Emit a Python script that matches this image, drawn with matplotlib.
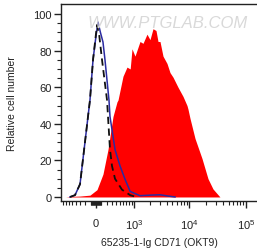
import numpy as np
import matplotlib
matplotlib.use("Agg")
import matplotlib.pyplot as plt
from matplotlib.ticker import FixedLocator, NullFormatter

plt.rcParams['font.family'] = ['Liberation Sans', 'DejaVu Sans']
plt.rcParams['mathtext.fontset'] = 'custom'
plt.rcParams['mathtext.rm'] = 'Liberation Sans'
plt.rcParams['mathtext.it'] = 'Liberation Sans'

# ---- data (fluorescence intensity, relative cell number) ----
stained_x = [-700, -563, -310, -110, 18, 128, 226, 333, 428, 454, 593, 722, 839, 912,
             1042, 1297, 1475, 1746, 1980, 2245, 2541, 2762, 2997, 3392, 3996, 4520,
             5111, 6269, 7690, 9053, 9430, 10230, 12550, 16700, 21300, 26100, 34700]
stained_y = [0, 0.3, 0.5, 1, 4, 12.5, 26, 44, 52, 53, 66, 71, 70, 81,
             77, 85, 84, 89, 86, 92, 91, 85, 85, 77, 73, 68,
             65.5, 60, 55, 50, 48, 43, 32, 21, 10, 4.4, 0]

isotype_x = [-563, -428, -310, -206, -147, -110, -54, 0, 36, 80, 128, 166, 246, 267,
             379, 507, 650, 839, 1297, 2000, 2997, 4000, 5550]
isotype_y = [0, 1, 7, 30, 44, 53, 75, 88, 95.6, 90, 84.7, 75, 53, 44,
             26, 17, 10, 3, 0.7, 1.0, 1.2, 0.6, 0]

blank_x = [-563, -428, -310, -206, -147, -110, -54, 18, 60, 110, 206, 226, 267,
           310, 379, 563, 839, 1100]
blank_y = [0, 1, 7, 30, 44, 53, 75, 94, 88, 75, 53, 44, 26,
           17, 10, 4, 1, 0]

x_major = [0, 1000, 10000, 100000]
x_major_labels = ['0', r'$10^3$', r'$10^4$', r'$10^5$']
y_major = [0, 20, 40, 60, 80, 100]

W = 444.0
def fwd(v):
    return np.arcsinh(np.asarray(v, dtype=float) / W) / np.log(10)
def inv(u):
    return W * np.sinh(np.asarray(u, dtype=float) * np.log(10))

fig = plt.figure(figsize=(2.57, 2.51), dpi=100)
ax = fig.add_axes([61/257, 49/251, 196/257, 197/251])
ax.set_xscale('function', functions=(fwd, inv))

ax.fill_between(stained_x, stained_y, 0, color='#ff0000', linewidth=0, zorder=1)
ax.plot(isotype_x, isotype_y, color='#2a2aa0', lw=1.1, zorder=2)
ax.plot(blank_x, blank_y, color='#111111', lw=1.3, ls=(0, (4, 2.5)), zorder=3)

ax.set_xlim(-871, 157000)
ax.set_ylim(-2.2, 105.5)

minor = [-800, -700, -600, -500, -400, -300, -200, -100]
minor += [-90, -80, -70, -60, -50, -40, -30, -20, -10, 10, 20, 30, 40, 50, 60, 70, 80, 90]
minor += [100, 200, 300, 400, 500, 600, 700, 800, 900]
minor += [k * 1000 for k in range(2, 10)] + [k * 10000 for k in range(2, 10)]
ax.xaxis.set_major_locator(FixedLocator(x_major))
ax.set_xticklabels(x_major_labels)
ax.xaxis.set_minor_locator(FixedLocator(minor))
ax.xaxis.set_minor_formatter(NullFormatter())
ax.set_yticks(y_major)
ax.yaxis.set_minor_locator(FixedLocator(np.arange(0, 101, 5)))

ax.tick_params(axis='both', which='major', length=5, width=1, color='#222222',
               labelsize=8, labelcolor='#222222')
ax.tick_params(axis='x', which='major', pad=7)
ax.tick_params(axis='y', which='major', pad=1.5)
ax.tick_params(axis='both', which='minor', length=3, width=0.8, color='#222222')

for s in ['left', 'bottom', 'top']:
    ax.spines[s].set_color('#222222')
    ax.spines[s].set_linewidth(1.0)
ax.spines['right'].set_visible(False)

ax.set_ylabel('Relative cell number', fontsize=7.5, color='#222222', labelpad=12)
ax.set_xlabel('65235-1-Ig CD71 (OKT9)', fontsize=7.5, color='#222222', labelpad=4)

fig.text(168/257, 1 - 24/251, 'WWW.PTGLAB.COM', fontsize=12, color='#d9d9d9',
         ha='center', va='center', style='italic', zorder=0)

fig.savefig('out.png', dpi=100)
